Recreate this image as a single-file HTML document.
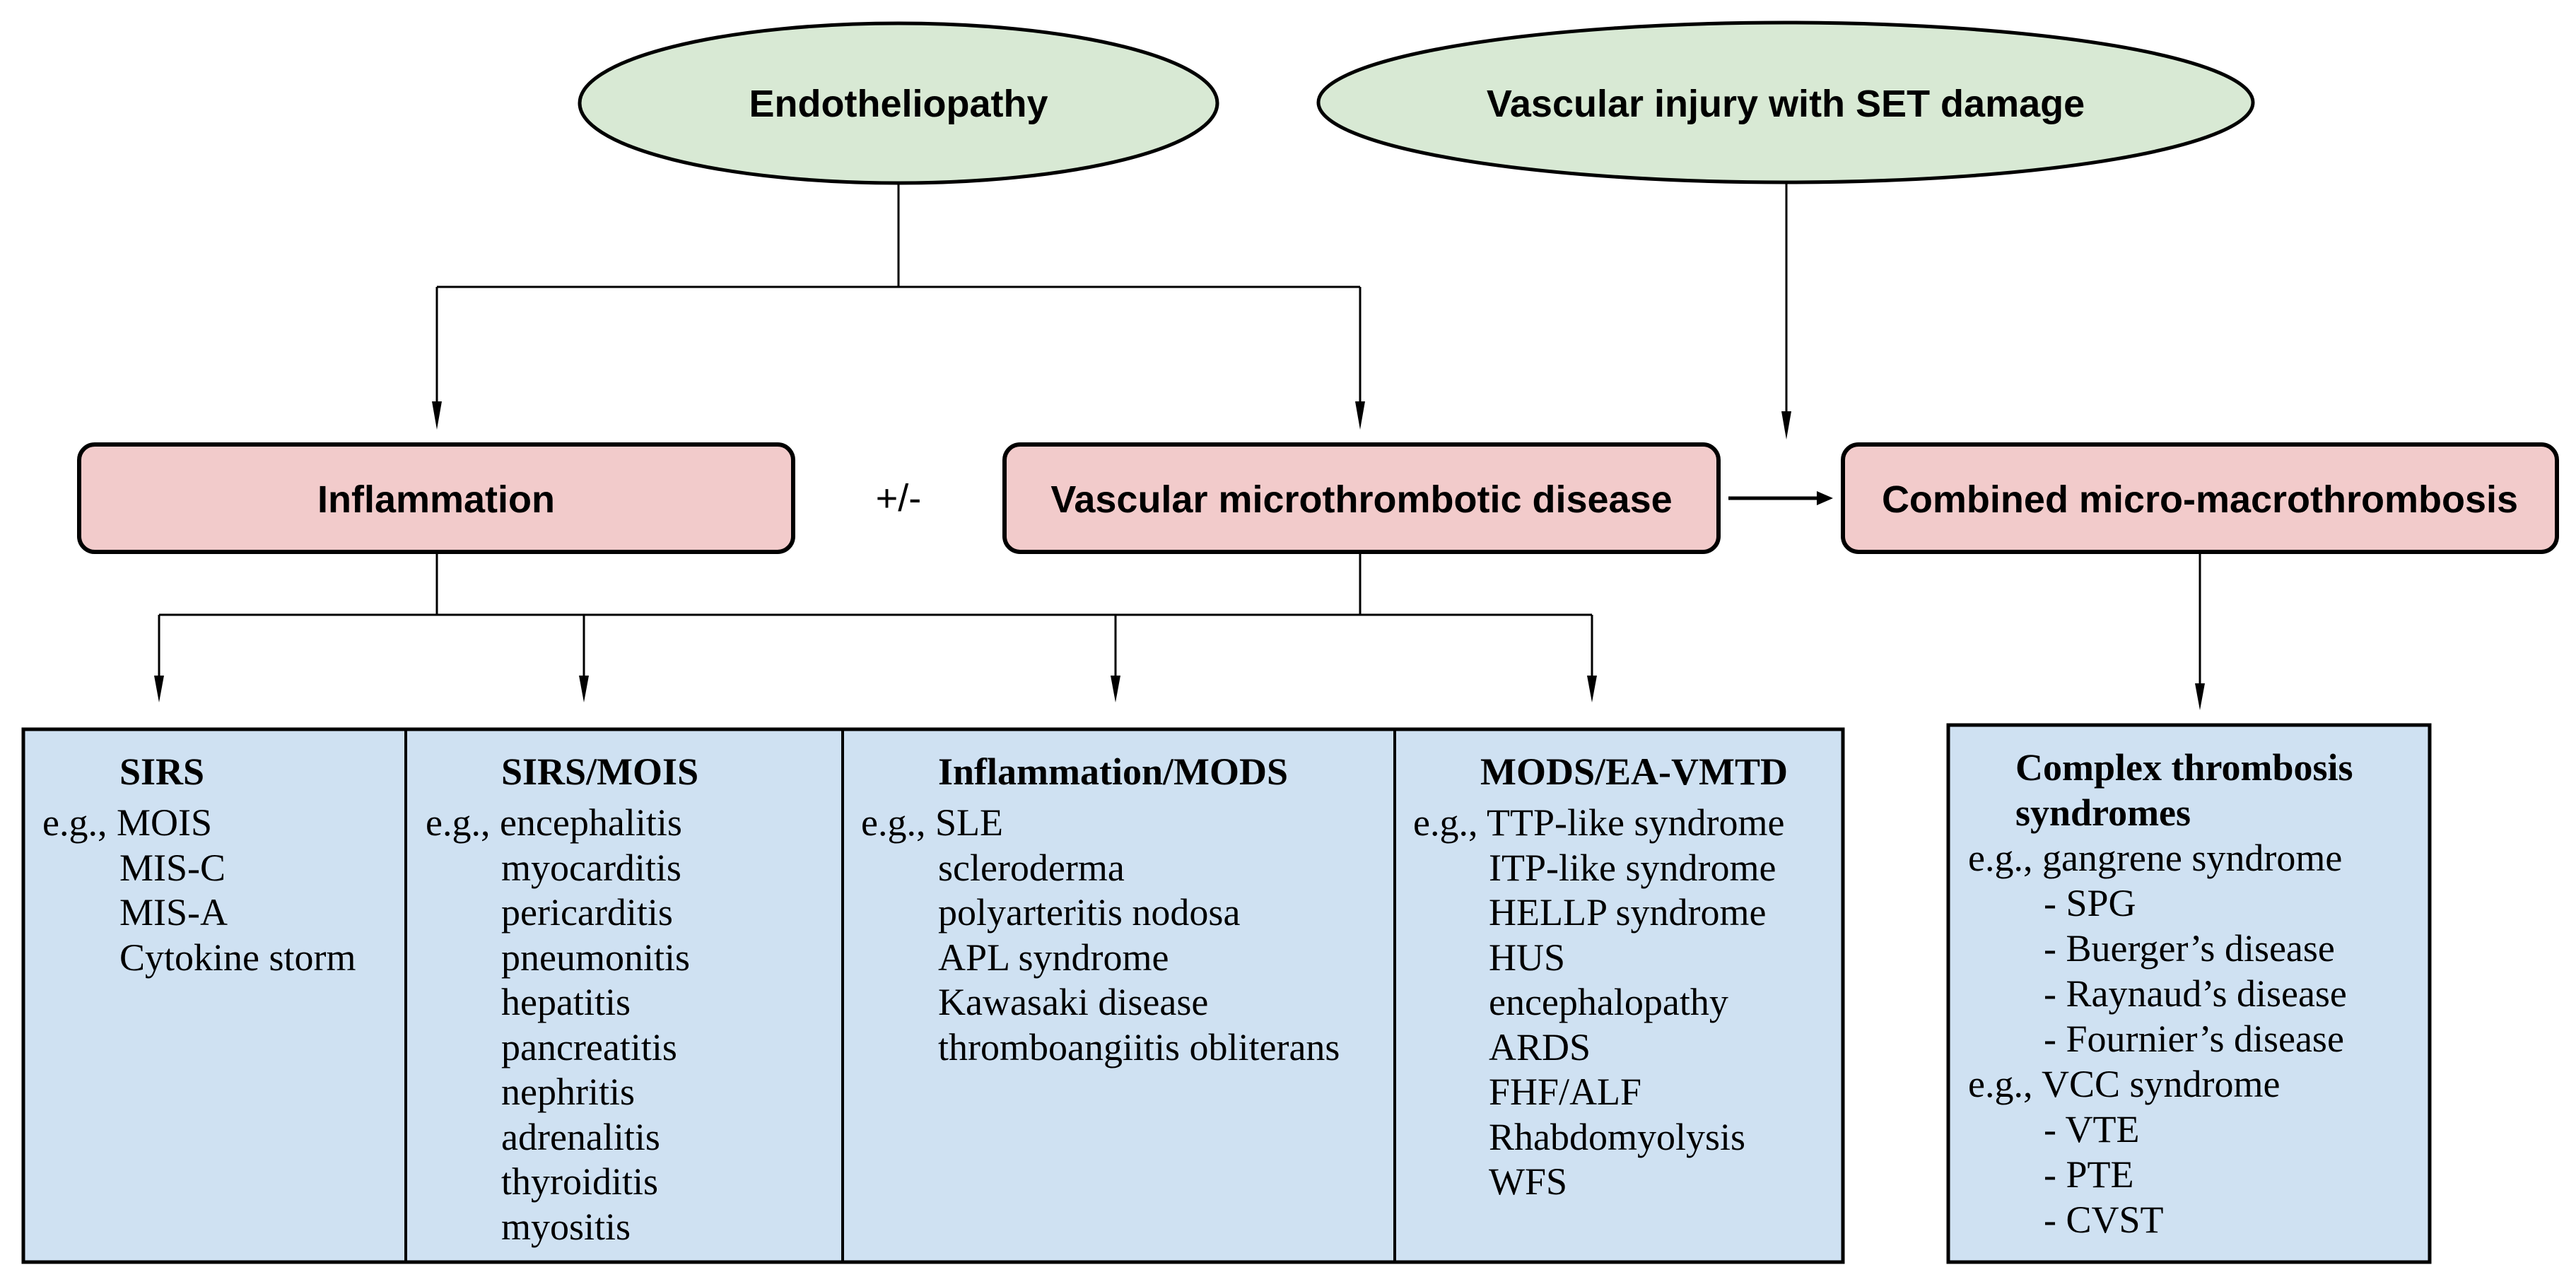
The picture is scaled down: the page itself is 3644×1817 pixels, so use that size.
<!DOCTYPE html>
<html><head><meta charset="utf-8"><style>
html,body{margin:0;padding:0;background:#fff;}
svg{display:block;}
.h{font-family:"Liberation Sans",Arial,sans-serif;font-weight:bold;font-size:54px;fill:#000;}
.t{font-family:"Liberation Serif","Times New Roman",serif;font-size:54px;fill:#000;}
.b{font-weight:bold;}
</style></head><body>
<svg width="3644" height="1817" viewBox="0 0 3644 1817" xmlns="http://www.w3.org/2000/svg">
<defs>
<marker id="a" markerWidth="12" markerHeight="40" refX="6" refY="38" orient="auto" markerUnits="userSpaceOnUse"><path d="M0,0 L12,0 L6,40 Z" fill="#000"/></marker>
</defs>
<!-- ellipses -->
<ellipse cx="1271" cy="146" rx="451" ry="113" fill="#d8e9d4" stroke="#000" stroke-width="5"/>
<ellipse cx="2526" cy="145" rx="661" ry="113" fill="#d8e9d4" stroke="#000" stroke-width="5"/>
<text class="h" x="1271" y="165" text-anchor="middle">Endotheliopathy</text>
<text class="h" x="2526" y="165" text-anchor="middle">Vascular injury with SET damage</text>
<!-- connectors top -->
<g stroke="#000" stroke-width="3" fill="none">
<line x1="1271" y1="259" x2="1271" y2="406"/>
<line x1="618" y1="406" x2="1924" y2="406"/>
<line x1="618" y1="406" x2="618" y2="568"/>
<line x1="1924" y1="406" x2="1924" y2="568"/>
<line x1="2527" y1="259" x2="2527" y2="582"/>
</g>
<path d="M611,568 L625,568 L618,608 Z"/>
<path d="M1917,568 L1931,568 L1924,608 Z"/>
<path d="M2520,582 L2534,582 L2527,622 Z"/>
<!-- boxes -->
<rect x="112" y="629" width="1010" height="152" rx="22" fill="#f2cbcb" stroke="#000" stroke-width="6"/>
<rect x="1421" y="629" width="1010" height="152" rx="22" fill="#f2cbcb" stroke="#000" stroke-width="6"/>
<rect x="2607" y="629" width="1010" height="152" rx="22" fill="#f2cbcb" stroke="#000" stroke-width="6"/>
<text class="h" x="617" y="725" text-anchor="middle">Inflammation</text>
<text class="h" x="1926" y="725" text-anchor="middle">Vascular microthrombotic disease</text>
<text class="h" x="3112" y="725" text-anchor="middle">Combined micro-macrothrombosis</text>
<text class="h" x="1271" y="723" text-anchor="middle" style="font-weight:normal">+/-</text>
<line x1="2445" y1="705" x2="2570" y2="705" stroke="#000" stroke-width="5"/>
<path d="M2570,695 L2593,705 L2570,715 Z"/>
<!-- connectors bottom -->
<g stroke="#000" stroke-width="3" fill="none">
<line x1="618" y1="782" x2="618" y2="870"/>
<line x1="1924" y1="782" x2="1924" y2="870"/>
<line x1="225" y1="870" x2="2252" y2="870"/>
<line x1="225" y1="870" x2="225" y2="956"/>
<line x1="826" y1="870" x2="826" y2="956"/>
<line x1="1578" y1="870" x2="1578" y2="956"/>
<line x1="2252" y1="870" x2="2252" y2="956"/>
<line x1="3112" y1="782" x2="3112" y2="967"/>
</g>
<path d="M218,956 L232,956 L225,994 Z"/>
<path d="M819,956 L833,956 L826,994 Z"/>
<path d="M1571,956 L1585,956 L1578,994 Z"/>
<path d="M2245,956 L2259,956 L2252,994 Z"/>
<path d="M3105,967 L3119,967 L3112,1005 Z"/>
<!-- table -->
<rect x="33" y="1032" width="2574" height="754" fill="#cfe1f2" stroke="#000" stroke-width="5"/>
<g stroke="#000" stroke-width="4">
<line x1="574" y1="1032" x2="574" y2="1786"/>
<line x1="1192" y1="1032" x2="1192" y2="1786"/>
<line x1="1973" y1="1032" x2="1973" y2="1786"/>
</g>
<rect x="2756" y="1026" width="681" height="760" fill="#cfe1f2" stroke="#000" stroke-width="5"/>

<g class="t">
<text class="t b" x="169" y="1110">SIRS</text>
<text class="t" x="60" y="1182">e.g., MOIS</text>
<text class="t" x="169" y="1246">MIS-C</text>
<text class="t" x="169" y="1309">MIS-A</text>
<text class="t" x="169" y="1373">Cytokine storm</text>

<text class="t b" x="709" y="1110">SIRS/MOIS</text>
<text class="t" x="602" y="1182">e.g., encephalitis</text>
<text class="t" x="709" y="1246">myocarditis</text>
<text class="t" x="709" y="1309">pericarditis</text>
<text class="t" x="709" y="1373">pneumonitis</text>
<text class="t" x="709" y="1436">hepatitis</text>
<text class="t" x="709" y="1500">pancreatitis</text>
<text class="t" x="709" y="1563">nephritis</text>
<text class="t" x="709" y="1627">adrenalitis</text>
<text class="t" x="709" y="1690">thyroiditis</text>
<text class="t" x="709" y="1754">myositis</text>

<text class="t b" x="1327" y="1110">Inflammation/MODS</text>
<text class="t" x="1218" y="1182">e.g., SLE</text>
<text class="t" x="1327" y="1246">scleroderma</text>
<text class="t" x="1327" y="1309">polyarteritis nodosa</text>
<text class="t" x="1327" y="1373">APL syndrome</text>
<text class="t" x="1327" y="1436">Kawasaki disease</text>
<text class="t" x="1327" y="1500">thromboangiitis obliterans</text>

<text class="t b" x="2094" y="1110">MODS/EA-VMTD</text>
<text class="t" x="1999" y="1182">e.g., TTP-like syndrome</text>
<text class="t" x="2106" y="1246">ITP-like syndrome</text>
<text class="t" x="2106" y="1309">HELLP syndrome</text>
<text class="t" x="2106" y="1373">HUS</text>
<text class="t" x="2106" y="1436">encephalopathy</text>
<text class="t" x="2106" y="1500">ARDS</text>
<text class="t" x="2106" y="1563">FHF/ALF</text>
<text class="t" x="2106" y="1627">Rhabdomyolysis</text>
<text class="t" x="2106" y="1690">WFS</text>

<text class="t b" x="2851" y="1104">Complex thrombosis</text>
<text class="t b" x="2851" y="1168">syndromes</text>
<text class="t" x="2784" y="1232">e.g., gangrene syndrome</text>
<text class="t" x="2891" y="1296">- SPG</text>
<text class="t" x="2891" y="1360">- Buerger’s disease</text>
<text class="t" x="2891" y="1424">- Raynaud’s disease</text>
<text class="t" x="2891" y="1488">- Fournier’s disease</text>
<text class="t" x="2784" y="1552">e.g., VCC syndrome</text>
<text class="t" x="2891" y="1616">- VTE</text>
<text class="t" x="2891" y="1680">- PTE</text>
<text class="t" x="2891" y="1744">- CVST</text>
</g>
</svg>
</body></html>
